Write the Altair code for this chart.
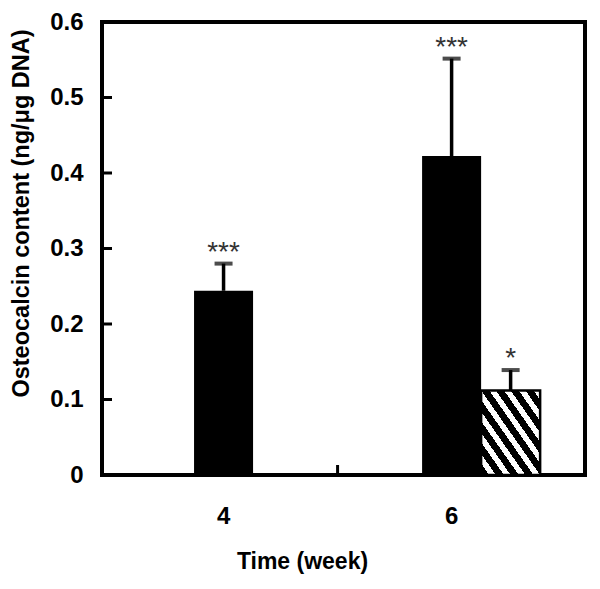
import altair as alt
import pandas as pd

# ---- data ----
weeks = ["4", "6"]
series = ["Control", "Group A", "Group B"]
a_mean = [0.244, 0.4225]      # solid black bars
a_err = [0.036, 0.129]
a_sig = ["***", "***"]
b_mean = [None, 0.112]        # hatched bars
b_err = [None, 0.027]
b_sig = [None, "*"]
y_tick_values = [0.1, 0.2, 0.3, 0.4, 0.5]
y_label_values = [0, 0.1, 0.2, 0.3, 0.4, 0.5, 0.6]

rows = []
for i, w in enumerate(weeks):
    for name, m, e, s in (("Group A", a_mean, a_err, a_sig), ("Group B", b_mean, b_err, b_sig)):
        if m[i] is None:
            continue
        rows.append({"week": w, "series": name, "mean": m[i], "top": m[i] + e[i], "sig": s[i]})
df = pd.DataFrame(rows)
ticks_df = pd.DataFrame({"v": y_tick_values})
mid_df = pd.DataFrame({"week": weeks[1:]})

FONT = "Liberation Sans"

# hatch pattern as hard-stop diagonal gradient
stops = []
n = 8
for k in range(n):
    a = k / n
    b = (k + 0.55) / n
    c = (k + 1) / n
    stops += [
        alt.GradientStop(color="black", offset=a),
        alt.GradientStop(color="black", offset=b),
        alt.GradientStop(color="white", offset=b),
        alt.GradientStop(color="white", offset=c),
    ]
hatch = alt.LinearGradient(gradient="linear", stops=stops, x1=0, y1=1, x2=1, y2=0)

x_enc = alt.X(
    "week:N",
    sort=weeks,
    scale=alt.Scale(domain=weeks, paddingInner=0, paddingOuter=0.059, align=0.28),
    axis=alt.Axis(
        title="Time (week)",
        labelAngle=0,
        labelFont=FONT,
        labelFontWeight="bold",
        labelFontSize=24,
        labelColor="black",
        labelPadding=29,
        labelExpr="datum.label",
        ticks=False,
        domain=False,
        titleFont=FONT,
        titleFontWeight="bold",
        titleFontSize=23,
        titleColor="black",
        titleX=200,
        titleY=86,
        titleBaseline="middle",
    ),
)
xo_enc = alt.XOffset("series:N", scale=alt.Scale(domain=series, paddingOuter=0.432, paddingInner=0))
y_scale = alt.Scale(domain=[0, 0.6], nice=False, zero=True)
y_enc = alt.Y(
    "mean:Q",
    scale=y_scale,
    axis=alt.Axis(
        title="Osteocalcin content (ng/μg DNA)",
        values=y_label_values,
        format=".1~f",
        labelFont=FONT,
        labelFontWeight="bold",
        labelFontSize=24,
        labelColor="black",
        labelPadding=19,
        ticks=False,
        domain=False,
        grid=False,
        titleFont=FONT,
        titleFontWeight="bold",
        titleFontSize=23.5,
        titleColor="black",
        titleX=-81,
        titleY=191,
        titleBaseline="middle",
        titleAlign="center",
    ),
)

base = alt.Chart(df)

black_bars = base.transform_filter(alt.datum.series == "Group A").mark_bar(color="black").encode(
    x=x_enc, xOffset=xo_enc, y=y_enc
)
hatched_bars = base.transform_filter(alt.datum.series == "Group B").mark_bar(
    fill=hatch, stroke="black", strokeWidth=2.5
).encode(x=alt.X("week:N"), xOffset=xo_enc, y=alt.Y("mean:Q", scale=y_scale))

stems = base.mark_rule(color="black", strokeWidth=3.5).encode(
    x=alt.X("week:N"), xOffset=xo_enc, y=alt.Y("mean:Q", scale=y_scale), y2="top:Q"
)
caps = base.mark_tick(color="black", thickness=4, size=18, orient="horizontal").encode(
    x=alt.X("week:N"), xOffset=xo_enc, y=alt.Y("top:Q", scale=y_scale)
)
stars = base.mark_text(font=FONT, fontSize=28, color="#333333", baseline="alphabetic", dy=-3).encode(
    x=alt.X("week:N"), xOffset=xo_enc, y=alt.Y("top:Q", scale=y_scale), text="sig:N"
)

y_ticks = alt.Chart(ticks_df).mark_rule(color="black", strokeWidth=3).encode(
    x=alt.value(0), x2=alt.value(10), y=alt.Y("v:Q", scale=y_scale)
)
mid_tick = alt.Chart(mid_df).mark_rule(color="black", strokeWidth=3).encode(
    x=alt.X("week:N", bandPosition=0), y=alt.value(453), y2=alt.value(443)
)

chart = (
    alt.layer(black_bars, hatched_bars, stems, caps, stars, y_ticks, mid_tick)
    .properties(
        width=483,
        height=453,
        autosize=alt.AutoSizeParams(type="none"),
        padding={"left": 94, "top": 14, "right": 5, "bottom": 100},
        background="white",
    )
    .configure_view(stroke="black", strokeWidth=4)
)

chart.save("out.html", embed_options={"renderer": "svg", "actions": False})
